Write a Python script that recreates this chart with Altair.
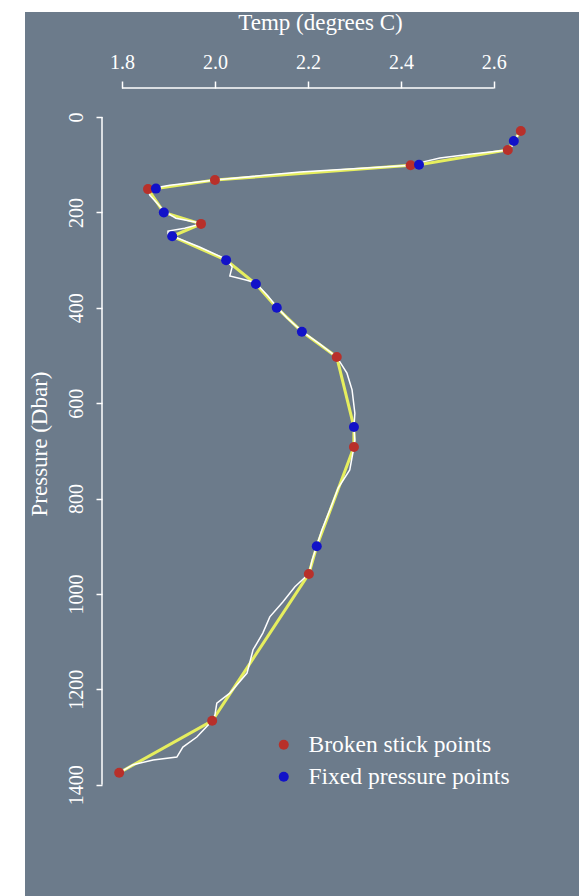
import altair as alt
import pandas as pd

# ---- Data ----
# Raw measured profile (white line)
raw_temp = [2.660, 2.658, 2.647, 2.641, 2.630, 2.548, 2.484, 2.439, 2.421, 2.183,
            2.000, 1.903, 1.856, 1.860, 1.877, 1.890, 1.916, 1.957, 1.970, 1.935,
            1.899, 1.899, 1.908, 1.968, 2.024, 2.037, 2.032, 2.069, 2.088, 2.114,
            2.133, 2.155, 2.187, 2.226, 2.262, 2.284, 2.295, 2.301, 2.299, 2.301,
            2.299, 2.290, 2.265, 2.247, 2.230, 2.219, 2.209, 2.202, 2.172, 2.146,
            2.118, 2.103, 2.082, 2.069, 2.032, 2.004, 2.000, 1.994, 1.961, 1.931,
            1.918, 1.867, 1.824, 1.794]
raw_pres = [21, 29, 44, 59, 69, 78, 86, 96, 101, 115,
            132, 143, 151, 164, 182, 197, 212, 220, 224, 233,
            239, 245, 249, 273, 298, 314, 333, 342, 348, 375,
            398, 421, 449, 476, 503, 537, 572, 621, 650, 677,
            692, 740, 778, 824, 866, 899, 929, 958, 985, 1017,
            1048, 1082, 1117, 1166, 1208, 1229, 1254, 1266, 1300, 1321,
            1342, 1348, 1358, 1375]

# Broken stick points (red)
bs_temp = [2.658, 2.630, 2.421, 2.000, 1.856, 1.970, 2.262, 2.299, 2.202, 1.994, 1.794]
bs_pres = [29, 69, 101, 132, 151, 224, 503, 692, 958, 1266, 1375]

# Fixed pressure points (blue)
fp_temp = [2.643, 2.439, 1.873, 1.890, 1.908, 2.024, 2.088, 2.133, 2.187, 2.299, 2.219]
fp_pres = [50, 100, 150, 200, 250, 300, 350, 400, 450, 650, 900]

temp_ticks = [1.8, 2.0, 2.2, 2.4, 2.6]
pres_ticks = [0, 200, 400, 600, 800, 1000, 1200, 1400]

legend_labels = ["Broken stick points", "Fixed pressure points"]

# ---- Styling ----
BG = "#6C7B8B"
RED = "#B8302A"
BLUE = "#1212C8"
YELLOW = "#E6EE5E"
FONT = "Liberation Serif"

W, H = 436, 711
PAD = {"left": 102, "top": 88, "right": 41, "bottom": 97}

xscale = alt.Scale(domain=[1.757, 2.695], nice=False, zero=False)
yscale = alt.Scale(domain=[-61, 1430], nice=False, zero=False, reverse=True)

xaxis = alt.Axis(orient="top", values=temp_ticks, format=".1f", domain=False,
                 grid=False, tickColor="white", tickSize=7, tickWidth=1.5,
                 labelColor="white", labelFont=FONT, labelFontSize=20,
                 labelPadding=13, labelBaseline="alphabetic",
                 titleColor="white", titleFont=FONT, titleFontSize=23,
                 titleFontWeight="normal", titleY=-59, titleBaseline="alphabetic",
                 zindex=1)
yaxis = alt.Axis(orient="left", values=pres_ticks, format="d", domain=False,
                 grid=False, tickColor="white", tickSize=6, tickWidth=1.5,
                 labelColor="white", labelFont=FONT, labelFontSize=20,
                 labelAngle=270, labelAlign="center", labelBaseline="alphabetic",
                 labelPadding=14,
                 titleColor="white", titleFont=FONT, titleFontSize=23,
                 titleFontWeight="normal", titleAngle=270, titleX=-63,
                 titleY=H / 2, titleAlign="center", titleBaseline="middle",
                 zindex=1)

XT = "Temp (degrees C)"
YT = "Pressure (Dbar)"


def X(field="temp"):
    return alt.X(f"{field}:Q", scale=xscale, axis=xaxis, title=XT)


def Y(field="pres"):
    return alt.Y(f"{field}:Q", scale=yscale, axis=yaxis, title=YT)


# ---- Tables ----
raw_df = pd.DataFrame({"temp": raw_temp, "pres": raw_pres})
bs_df = pd.DataFrame({"temp": bs_temp, "pres": bs_pres})
fp_df = pd.DataFrame({"temp": fp_temp, "pres": fp_pres})
pts_df = pd.concat([
    bs_df.assign(type=legend_labels[0]),
    fp_df.assign(type=legend_labels[1]),
], ignore_index=True)
xline_df = pd.DataFrame({"temp": [min(temp_ticks)], "temp2": [max(temp_ticks)]})
yline_df = pd.DataFrame({"pres": [min(pres_ticks)], "pres2": [max(pres_ticks)]})

# ---- Layers ----
panel = alt.Chart(pd.DataFrame({"a": [0]})).mark_rect(color=BG).encode(
    x=alt.value(-77), x2=alt.value(477), y=alt.value(-76), y2=alt.value(808)
)

xline = alt.Chart(xline_df).mark_rule(color="white", strokeWidth=1.5).encode(
    x=X(), x2="temp2:Q", y=alt.value(0)
)
yline = alt.Chart(yline_df).mark_rule(color="white", strokeWidth=1.5).encode(
    y=Y(), y2="pres2:Q", x=alt.value(0)
)

# yellow line joining all selected points in pressure order
sel_line = alt.Chart(pts_df).mark_line(color=YELLOW, strokeWidth=3).encode(
    x=X(), y=Y(), order="pres:Q"
)
raw_line = alt.Chart(raw_df).mark_line(color="white", strokeWidth=1.5).encode(
    x=X(), y=Y(), order="pres:Q"
)

points = alt.Chart(pts_df).mark_point(filled=True, shape="circle", size=100,
                                      opacity=1).encode(
    x=X(), y=Y(),
    color=alt.Color("type:N",
                    scale=alt.Scale(domain=legend_labels, range=[RED, BLUE]),
                    legend=alt.Legend(orient="none", legendX=170, legendY=645,
                                      title=None, labelFont=FONT,
                                      labelFontSize=23.5, labelColor="white",
                                      symbolType="circle", symbolSize=100,
                                      symbolStrokeWidth=0, symbolOpacity=1,
                                      labelOffset=13, rowPadding=7, padding=0,
                                      labelLimit=400, zindex=1)),
)

chart = alt.layer(panel, xline, yline, sel_line, raw_line, points).properties(
    width=W, height=H, padding=PAD,
    autosize=alt.AutoSizeParams(type="none"),
    background="white",
).configure_view(stroke=None)

chart.save("out.html", embed_options={"renderer": "svg", "actions": False})
